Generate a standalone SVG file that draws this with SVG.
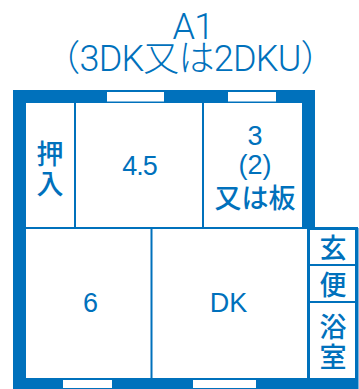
<svg xmlns="http://www.w3.org/2000/svg" width="359" height="389" viewBox="0 0 359 389">
<style>
.w{fill:#0071bc}
.l{stroke:#0071bc;stroke-width:2;fill:none}
.g{fill:#fff}
text{fill:#0071bc;font-family:"Liberation Sans","Noto Sans CJK JP",sans-serif;text-anchor:middle}
.t{font-size:36px;letter-spacing:-0.800px;font-family:Roboto,"Noto Sans CJK JP",sans-serif;font-weight:300}
.n{font-size:27px}
.c{font-size:27px;font-weight:500;font-family:"Noto Sans CJK JP",sans-serif}
</style>
<rect width="359" height="389" fill="#fff"/>
<g id="walls">
<path class="w" d="M13 90H315V228H302V103H26V378H308V228H358.500V389H13Z M355 230H310V378H355Z" fill-rule="evenodd"/>
<rect class="g" x="107" y="92" width="57" height="9.500"/>
<rect class="g" x="228" y="92" width="48" height="9.500"/>
<rect class="g" x="63" y="380" width="49" height="8"/>
<rect class="g" x="193" y="380" width="63" height="8"/>
</g>
<g id="connectors">
<path class="l" d="M75 103V228M203 103V228M26 228H358M151.500 228V378M308 228V378M308 265H355M308 302H355"/>
</g>
<g id="title"><text class="t" x="193" y="39">A1</text><text class="t" x="190" y="71">（3DK又は2DKU）</text></g>
<g id="room-oshiire"><text class="c" x="50" y="164">押<tspan x="50" dy="30">入</tspan></text></g>
<g id="room-45"><text class="n" x="139.500" y="175" letter-spacing="-1">4.5</text></g>
<g id="room-3"><text class="n" x="255" y="145">3</text><text class="n" x="255" y="174">(2)</text><text class="c" x="255" y="208">又は板</text></g>
<g id="room-6"><text class="n" x="90.500" y="312">6</text></g>
<g id="room-dk"><text class="n" x="228.500" y="312">DK</text></g>
<g id="room-genkan"><text class="c" x="333" y="258">玄</text></g>
<g id="room-benjo"><text class="c" x="333" y="295">便</text></g>
<g id="room-yokushitsu"><text class="c" x="333" y="337">浴<tspan x="333" dy="30">室</tspan></text></g>
</svg>
